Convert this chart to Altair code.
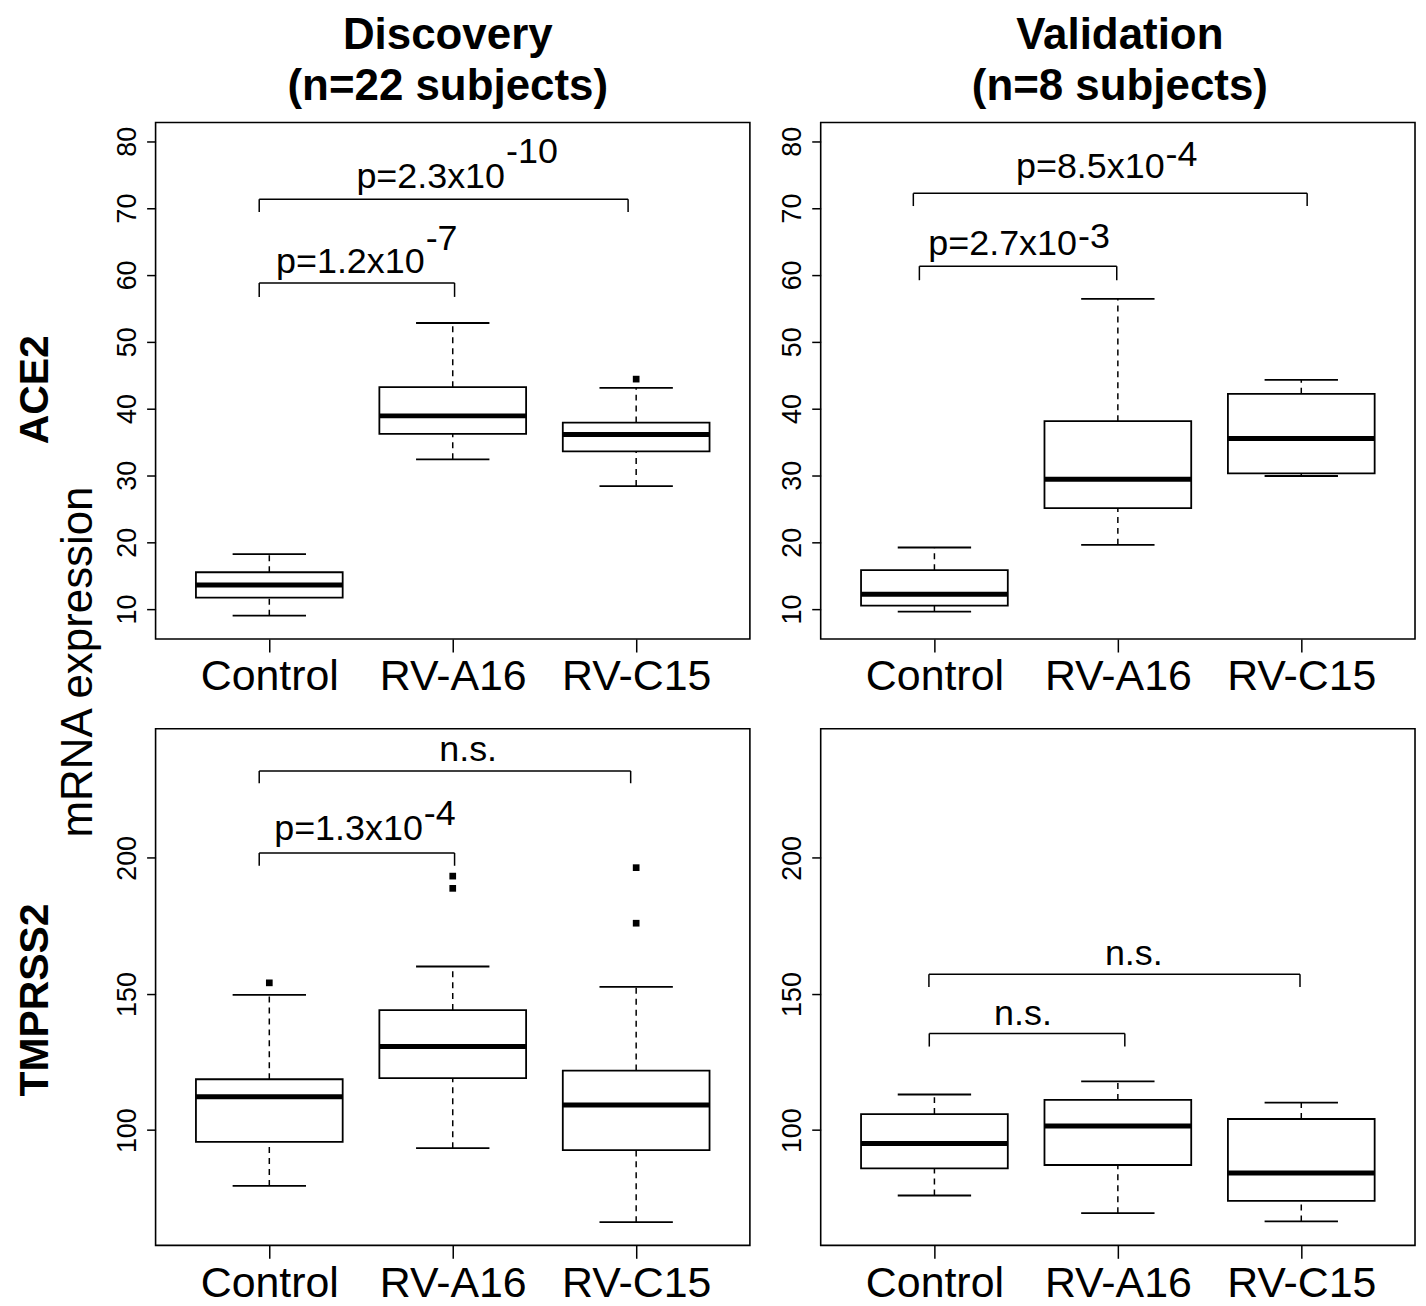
import altair as alt
import pandas as pd

FONT = "Liberation Sans"

GROUPS = ["Control", "RV-A16", "RV-C15"]
POS = [1, 2, 3]

# ---------------- box statistics ----------------
# Discovery / ACE2
dA_low = [9.0, 32.4, 28.4]
dA_q1 = [11.7, 36.2, 33.6]
dA_med = [13.6, 38.9, 36.1]
dA_q3 = [15.5, 43.2, 37.9]
dA_high = [18.2, 52.8, 43.1]
dA_out_pos = [3]
dA_out_val = [44.4]

# Validation / ACE2
vA_low = [9.6, 19.6, 29.9]
vA_q1 = [10.5, 25.1, 30.3]
vA_med = [12.2, 29.4, 35.5]
vA_q3 = [15.8, 38.1, 42.2]
vA_high = [19.2, 56.4, 44.3]
vA_out_pos = []
vA_out_val = []

# Discovery / TMPRSS2
dT_low = [79.5, 93.4, 66.2]
dT_q1 = [95.7, 119.1, 92.7]
dT_med = [112.3, 130.7, 109.2]
dT_q3 = [118.7, 144.1, 121.9]
dT_high = [149.7, 160.1, 152.6]
dT_out_pos = [1, 2, 2, 3, 3]
dT_out_val = [154.1, 193.3, 188.8, 196.4, 176.0]

# Validation / TMPRSS2
vT_low = [76.0, 69.5, 66.5]
vT_q1 = [86.0, 87.2, 74.0]
vT_med = [95.1, 101.5, 84.3]
vT_q3 = [105.9, 111.1, 104.1]
vT_high = [113.1, 117.9, 110.1]
vT_out_pos = []
vT_out_val = []

# ---------------- significance brackets / labels ----------------
dA_br_x1 = [0.945, 0.945]
dA_br_x2 = [2.01, 2.956]
dA_br_y = [58.8, 71.3]
dA_br_leg = [56.7, 69.4]
dA_p_x = [1.847, 2.285]
dA_p_y = [60.3, 73.0]
dA_p_sup_y = [63.7, 76.7]
dA_p_base = ["p=1.2x10", "p=2.3x10"]
dA_p_sup = ["-7", "-10"]
dA_ns_x, dA_ns_y = [], []

vA_br_x1 = [0.918, 0.885]
vA_br_x2 = [1.994, 3.032]
vA_br_y = [61.3, 72.2]
vA_br_leg = [59.2, 70.3]
vA_p_x = [1.777, 2.255]
vA_p_y = [63.0, 74.5]
vA_p_sup_y = [64.0, 76.3]
vA_p_base = ["p=2.7x10", "p=8.5x10"]
vA_p_sup = ["-3", "-4"]
vA_ns_x, vA_ns_y = [], []

dT_br_x1 = [0.945, 0.945]
dT_br_x2 = [2.01, 2.97]
dT_br_y = [201.8, 231.9]
dT_br_leg = [197.1, 227.4]
dT_p_x = [1.837]
dT_p_y = [206.6]
dT_p_sup_y = [212.0]
dT_p_base = ["p=1.3x10"]
dT_p_sup = ["-4"]
dT_ns_x, dT_ns_y = [2.084], [235.5]

vT_br_x1 = [0.972, 0.970]
vT_br_x2 = [2.038, 2.993]
vT_br_y = [135.5, 157.3]
vT_br_leg = [130.7, 152.6]
vT_p_x, vT_p_y, vT_p_sup_y, vT_p_base, vT_p_sup = [], [], [], [], []
vT_ns_x, vT_ns_y = [1.483, 2.087], [138.7, 160.6]

# ---------------- axes / scales ----------------
ACE2_DOMAIN = [5.5, 82.8]
ACE2_TICKS = [10, 20, 30, 40, 50, 60, 70, 80]
TMP_DOMAIN = [57.7, 247.4]
TMP_TICKS = [100, 150, 200]
X_DOMAIN = [0.38, 3.62]

COL_TITLES = [["Discovery", "(n=22 subjects)"], ["Validation", "(n=8 subjects)"]]
ROW_LABELS = ["ACE2", "TMPRSS2"]
Y_TITLE = "mRNA expression"

W, H = 596, 518

label_expr = "[" + ",".join("'%s'" % g for g in GROUPS) + "][datum.value - 1]"


def panel(low, q1, med, q3, high, out_pos, out_val,
          br_x1, br_x2, br_y, br_leg,
          p_x, p_y, p_sup_y, p_base, p_sup, ns_x, ns_y,
          ydomain, yticks, title=None, extra_labels=None):
    xs = alt.Scale(domain=X_DOMAIN, nice=False, zero=False)
    ys = alt.Scale(domain=ydomain, nice=False, zero=False)
    xax = alt.Axis(values=POS, labelExpr=label_expr, title=None, grid=False,
                   domain=False, tickSize=13, tickWidth=1.5, tickColor="black",
                   labelFontSize=43, labelFont=FONT, labelColor="black",
                   labelPadding=4, labelBaseline="top", labelAngle=0)
    yax = alt.Axis(values=yticks, title=None, grid=False, domain=False,
                   tickSize=9, tickWidth=1.5, tickColor="black",
                   labelFontSize=27, labelFont=FONT, labelColor="black",
                   labelAngle=270, labelAlign="center", labelBaseline="alphabetic",
                   labelPadding=11)

    def X(f):
        return alt.X(f, type="quantitative", scale=xs, axis=xax)

    def Y(f):
        return alt.Y(f, type="quantitative", scale=ys, axis=yax)

    box = pd.DataFrame({"pos": POS, "low": low, "q1": q1, "med": med,
                        "q3": q3, "high": high})
    base = alt.Chart(box).transform_calculate(
        xl="datum.pos - 0.4", xr="datum.pos + 0.4",
        ca="datum.pos - 0.2", cb="datum.pos + 0.2")

    dash = [6, 5]
    layers = [
        base.mark_rule(color="black", strokeWidth=1.5, strokeDash=dash).encode(
            x=X("pos"), y=Y("q3"), y2="high"),
        base.mark_rule(color="black", strokeWidth=1.5, strokeDash=dash).encode(
            x=X("pos"), y=Y("low"), y2="q1"),
        base.mark_rule(color="black", strokeWidth=1.8).encode(
            x=X("ca"), x2="cb", y=Y("high")),
        base.mark_rule(color="black", strokeWidth=1.8).encode(
            x=X("ca"), x2="cb", y=Y("low")),
        base.mark_rect(fill="white", stroke="black", strokeWidth=1.8).encode(
            x=X("xl"), x2="xr", y=Y("q1"), y2="q3"),
        base.mark_rule(color="black", strokeWidth=5).encode(
            x=X("xl"), x2="xr", y=Y("med")),
    ]
    if out_pos:
        out = pd.DataFrame({"pos": out_pos, "val": out_val})
        layers.append(alt.Chart(out).mark_square(size=45, color="black", opacity=1).encode(
            x=X("pos"), y=Y("val")))

    br = pd.DataFrame({"x1": br_x1, "x2": br_x2, "y": br_y, "leg": br_leg})
    bch = alt.Chart(br)
    layers += [
        bch.mark_rule(color="black", strokeWidth=1.5).encode(x=X("x1"), x2="x2", y=Y("y")),
        bch.mark_rule(color="black", strokeWidth=1.5).encode(x=X("x1"), y=Y("leg"), y2="y"),
        bch.mark_rule(color="black", strokeWidth=1.5).encode(x=X("x2"), y=Y("leg"), y2="y"),
    ]
    if p_x:
        pt = pd.DataFrame({"x": p_x, "y": p_y, "sy": p_sup_y, "base": p_base, "sup": p_sup})
        pch = alt.Chart(pt)
        layers += [
            pch.mark_text(font=FONT, fontSize=36, align="right", baseline="alphabetic",
                          color="black").encode(x=X("x"), y=Y("y"), text="base:N"),
            pch.mark_text(font=FONT, fontSize=36, align="left", baseline="alphabetic",
                          dx=1, color="black").encode(x=X("x"), y=Y("sy"), text="sup:N"),
        ]
    if ns_x:
        ns = pd.DataFrame({"x": ns_x, "y": ns_y, "t": ["n.s."] * len(ns_x)})
        layers.append(alt.Chart(ns).mark_text(font=FONT, fontSize=36, align="center",
                                              baseline="alphabetic", color="black").encode(
            x=X("x"), y=Y("y"), text="t:N"))
    if extra_labels:
        layers += extra_labels

    props = dict(width=W, height=H)
    if title is not None:
        props["title"] = title
    return alt.layer(*layers).properties(**props)


def col_title(lines, dx):
    return alt.TitleParams(lines, fontSize=44, fontWeight="bold", font=FONT,
                           color="black", lineHeight=51, offset=14, anchor="middle",
                           frame="group", dx=dx)


def side_label(text, px, py, size, bold):
    df = pd.DataFrame({"t": [text]})
    return alt.Chart(df).mark_text(font=FONT, fontSize=size,
                                   fontWeight="bold" if bold else "normal",
                                   angle=270, align="center", baseline="middle",
                                   color="black").encode(
        x=alt.value(px), y=alt.value(py), text="t:N")


p11 = panel(dA_low, dA_q1, dA_med, dA_q3, dA_high, dA_out_pos, dA_out_val,
            dA_br_x1, dA_br_x2, dA_br_y, dA_br_leg,
            dA_p_x, dA_p_y, dA_p_sup_y, dA_p_base, dA_p_sup, dA_ns_x, dA_ns_y,
            ACE2_DOMAIN, ACE2_TICKS, title=col_title(COL_TITLES[0], -5),
            extra_labels=[side_label(ROW_LABELS[0], -120, 268, 41, True),
                          side_label(Y_TITLE, -77, 541, 44, False)])
p12 = panel(vA_low, vA_q1, vA_med, vA_q3, vA_high, vA_out_pos, vA_out_val,
            vA_br_x1, vA_br_x2, vA_br_y, vA_br_leg,
            vA_p_x, vA_p_y, vA_p_sup_y, vA_p_base, vA_p_sup, vA_ns_x, vA_ns_y,
            ACE2_DOMAIN, ACE2_TICKS, title=col_title(COL_TITLES[1], 2))
p21 = panel(dT_low, dT_q1, dT_med, dT_q3, dT_high, dT_out_pos, dT_out_val,
            dT_br_x1, dT_br_x2, dT_br_y, dT_br_leg,
            dT_p_x, dT_p_y, dT_p_sup_y, dT_p_base, dT_p_sup, dT_ns_x, dT_ns_y,
            TMP_DOMAIN, TMP_TICKS,
            extra_labels=[side_label(ROW_LABELS[1], -120, 272, 41, True)])
p22 = panel(vT_low, vT_q1, vT_med, vT_q3, vT_high, vT_out_pos, vT_out_val,
            vT_br_x1, vT_br_x2, vT_br_y, vT_br_leg,
            vT_p_x, vT_p_y, vT_p_sup_y, vT_p_base, vT_p_sup, vT_ns_x, vT_ns_y,
            TMP_DOMAIN, TMP_TICKS)

chart = alt.concat(p11, p12, p21, p22, columns=2).properties(
    spacing={"row": 90, "column": 71},
    bounds="flush",
    padding={"left": 6, "top": 3, "right": 2, "bottom": 0},
    background="white",
).configure_view(stroke="black", strokeWidth=1.6, fill="white")

chart.save("out.html", embed_options={"renderer": "svg", "actions": False})
